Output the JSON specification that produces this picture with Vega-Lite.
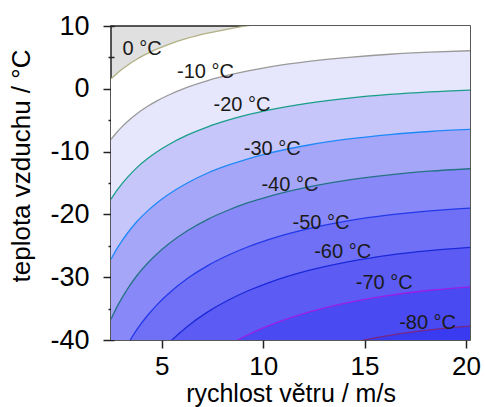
{
  "$schema": "https://vega.github.io/schema/vega-lite/v6.json",
  "width": 359,
  "height": 314,
  "autosize": {"type": "none"},
  "padding": {"left": 111, "top": 26, "right": 15, "bottom": 67},
  "background": "white",
  "config": {
    "font": "Liberation Sans",
    "view": {"fill": "#e0e0e0", "stroke": "#222222", "strokeWidth": 1.5}
  },
  "datasets": {
    "c": [
      {"v":2.5,"T":1.6,"c":0},{"v":2.8,"T":2.45,"c":0},{"v":3.0,"T":3.0,"c":0},{"v":3.3,"T":3.72,"c":0},{"v":3.79,"T":4.75,"c":0},{"v":4.29,"T":5.6,"c":0},{"v":4.79,"T":6.35,"c":0},{"v":5.29,"T":7.0,"c":0},{"v":6.28,"T":8.05,"c":0},{"v":7.27,"T":8.85,"c":0},{"v":8.27,"T":9.5,"c":0},{"v":9.26,"T":10.05,"c":0},{"v":10.26,"T":10.5,"c":0},{"v":12.25,"T":11.1,"c":0},{"v":14.24,"T":11.55,"c":0},{"v":16.23,"T":11.9,"c":0},{"v":18.21,"T":12.15,"c":0},{"v":20.2,"T":12.33,"c":0},
      {"v":2.5,"T":-8.05,"c":-10},{"v":2.8,"T":-6.87,"c":-10},{"v":3.0,"T":-6.18,"c":-10},{"v":3.3,"T":-5.25,"c":-10},{"v":3.79,"T":-3.93,"c":-10},{"v":4.29,"T":-2.82,"c":-10},{"v":4.79,"T":-1.88,"c":-10},{"v":5.29,"T":-1.07,"c":-10},{"v":6.28,"T":0.27,"c":-10},{"v":7.27,"T":1.32,"c":-10},{"v":8.27,"T":2.17,"c":-10},{"v":9.26,"T":2.87,"c":-10},{"v":10.26,"T":3.46,"c":-10},{"v":12.25,"T":4.37,"c":-10},{"v":14.24,"T":5.02,"c":-10},{"v":16.23,"T":5.5,"c":-10},{"v":18.21,"T":5.83,"c":-10},{"v":20.2,"T":6.06,"c":-10},
      {"v":2.5,"T":-17.59,"c":-20},{"v":2.8,"T":-16.15,"c":-20},{"v":3.0,"T":-15.29,"c":-20},{"v":3.3,"T":-14.14,"c":-20},{"v":3.79,"T":-12.51,"c":-20},{"v":4.29,"T":-11.15,"c":-20},{"v":4.79,"T":-9.99,"c":-20},{"v":5.29,"T":-8.99,"c":-20},{"v":6.28,"T":-7.35,"c":-20},{"v":7.27,"T":-6.05,"c":-20},{"v":8.27,"T":-5.0,"c":-20},{"v":9.26,"T":-4.13,"c":-20},{"v":10.26,"T":-3.41,"c":-20},{"v":12.25,"T":-2.29,"c":-20},{"v":14.24,"T":-1.48,"c":-20},{"v":16.23,"T":-0.9,"c":-20},{"v":18.21,"T":-0.49,"c":-20},{"v":20.2,"T":-0.2,"c":-20},
      {"v":2.5,"T":-27.14,"c":-30},{"v":2.8,"T":-25.42,"c":-30},{"v":3.0,"T":-24.4,"c":-30},{"v":3.3,"T":-23.04,"c":-30},{"v":3.79,"T":-21.1,"c":-30},{"v":4.29,"T":-19.48,"c":-30},{"v":4.79,"T":-18.1,"c":-30},{"v":5.29,"T":-16.91,"c":-30},{"v":6.28,"T":-14.96,"c":-30},{"v":7.27,"T":-13.41,"c":-30},{"v":8.27,"T":-12.17,"c":-30},{"v":9.26,"T":-11.14,"c":-30},{"v":10.26,"T":-10.28,"c":-30},{"v":12.25,"T":-8.95,"c":-30},{"v":14.24,"T":-7.99,"c":-30},{"v":16.23,"T":-7.29,"c":-30},{"v":18.21,"T":-6.8,"c":-30},{"v":20.2,"T":-6.47,"c":-30},
      {"v":2.5,"T":-36.69,"c":-40},{"v":2.8,"T":-34.69,"c":-40},{"v":3.0,"T":-33.52,"c":-40},{"v":3.3,"T":-31.93,"c":-40},{"v":3.79,"T":-29.69,"c":-40},{"v":4.29,"T":-27.81,"c":-40},{"v":4.79,"T":-26.22,"c":-40},{"v":5.29,"T":-24.84,"c":-40},{"v":6.28,"T":-22.57,"c":-40},{"v":7.27,"T":-20.78,"c":-40},{"v":8.27,"T":-19.34,"c":-40},{"v":9.26,"T":-18.14,"c":-40},{"v":10.26,"T":-17.15,"c":-40},{"v":12.25,"T":-15.61,"c":-40},{"v":14.24,"T":-14.49,"c":-40},{"v":16.23,"T":-13.69,"c":-40},{"v":18.21,"T":-13.12,"c":-40},{"v":20.2,"T":-12.73,"c":-40},
      {"v":2.5,"T":-46.23,"c":-50},{"v":2.8,"T":-43.97,"c":-50},{"v":3.0,"T":-42.63,"c":-50},{"v":3.3,"T":-40.83,"c":-50},{"v":3.79,"T":-38.28,"c":-50},{"v":4.29,"T":-36.14,"c":-50},{"v":4.79,"T":-34.33,"c":-50},{"v":5.29,"T":-32.76,"c":-50},{"v":6.28,"T":-30.18,"c":-50},{"v":7.27,"T":-28.15,"c":-50},{"v":8.27,"T":-26.51,"c":-50},{"v":9.26,"T":-25.15,"c":-50},{"v":10.26,"T":-24.02,"c":-50},{"v":12.25,"T":-22.27,"c":-50},{"v":14.24,"T":-21.0,"c":-50},{"v":16.23,"T":-20.09,"c":-50},{"v":18.21,"T":-19.44,"c":-50},{"v":20.2,"T":-19.0,"c":-50},
      {"v":3.79,"T":-46.86,"c":-60},{"v":4.29,"T":-44.47,"c":-60},{"v":4.79,"T":-42.44,"c":-60},{"v":5.29,"T":-40.68,"c":-60},{"v":6.28,"T":-37.8,"c":-60},{"v":7.27,"T":-35.52,"c":-60},{"v":8.27,"T":-33.67,"c":-60},{"v":9.26,"T":-32.16,"c":-60},{"v":10.26,"T":-30.89,"c":-60},{"v":12.25,"T":-28.92,"c":-60},{"v":14.24,"T":-27.51,"c":-60},{"v":16.23,"T":-26.48,"c":-60},{"v":18.21,"T":-25.76,"c":-60},{"v":20.2,"T":-25.26,"c":-60},
      {"v":7.27,"T":-42.88,"c":-70},{"v":8.27,"T":-40.84,"c":-70},{"v":9.26,"T":-39.16,"c":-70},{"v":10.26,"T":-37.76,"c":-70},{"v":12.25,"T":-35.58,"c":-70},{"v":14.24,"T":-34.01,"c":-70},{"v":16.23,"T":-32.88,"c":-70},{"v":18.21,"T":-32.08,"c":-70},{"v":20.2,"T":-31.53,"c":-70},
      {"v":12.25,"T":-42.24,"c":-80},{"v":14.24,"T":-40.52,"c":-80},{"v":16.23,"T":-39.27,"c":-80},{"v":18.21,"T":-38.39,"c":-80},{"v":20.2,"T":-37.79,"c":-80}
    ],
    "lab": [
      {"v":4.03,"T":6.34,"t":"0 °C"},
      {"v":7.16,"T":2.63,"t":"-10 °C"},
      {"v":8.96,"T":-2.58,"t":"-20 °C"},
      {"v":10.45,"T":-9.59,"t":"-30 °C"},
      {"v":11.32,"T":-15.32,"t":"-40 °C"},
      {"v":12.85,"T":-21.42,"t":"-50 °C"},
      {"v":13.92,"T":-25.94,"t":"-60 °C"},
      {"v":15.97,"T":-30.97,"t":"-70 °C"},
      {"v":18.11,"T":-37.34,"t":"-80 °C"}
    ]
  },
  "data": {"name": "c"},
  "encoding": {
    "x": {
      "field": "v", "type": "quantitative",
      "scale": {"domain": [2.5, 20.2], "nice": false, "zero": false},
      "axis": {
        "values": [5, 10, 15, 20], "domain": false, "grid": false,
        "tickSize": 8, "tickColor": "#222222", "tickWidth": 1.5,
        "labelFontSize": 26, "labelColor": "#000000", "labelPadding": 5,
        "labelFlush": false, "labelOverlap": false,
        "title": "rychlost větru / m/s", "titleFontSize": 25, "titleFontWeight": "normal",
        "titleColor": "#000000", "titleBaseline": "alphabetic", "titleY": 61
      }
    },
    "y": {
      "field": "T", "type": "quantitative",
      "scale": {"domain": [-40, 10], "nice": false, "zero": false},
      "axis": {
        "values": [-40, -35, -30, -25, -20, -15, -10, -5, 0, 5, 10],
        "domain": false, "grid": false, "offset": -3,
        "tickSize": {"condition": {"test": "datum.value % 10 === 0", "value": 11}, "value": 6},
        "tickColor": "#222222", "tickWidth": 1.5,
        "labelExpr": "datum.value % 10 === 0 ? toString(datum.value) : ''",
        "labelFontSize": 27, "labelColor": "#000000", "labelPadding": 14,
        "labelFlush": false, "labelOverlap": false,
        "title": "teplota vzduchu / °C", "titleFontSize": 26, "titleFontWeight": "normal",
        "titleColor": "#000000", "titleX": -80, "titleY": 139.5, "titleBaseline": "bottom"
      }
    }
  },
  "layer": [
    {"transform": [{"filter": "datum.c == 0"}], "mark": {"type": "area", "clip": true, "interpolate": "monotone", "color": "#ffffff"}, "encoding": {"y2": {"datum": -50}}},
    {"transform": [{"filter": "datum.c == -10"}], "mark": {"type": "area", "clip": true, "interpolate": "monotone", "color": "#e6e6fc"}, "encoding": {"y2": {"datum": -50}}},
    {"transform": [{"filter": "datum.c == -20"}], "mark": {"type": "area", "clip": true, "interpolate": "monotone", "color": "#c6c6fb"}, "encoding": {"y2": {"datum": -50}}},
    {"transform": [{"filter": "datum.c == -30"}], "mark": {"type": "area", "clip": true, "interpolate": "monotone", "color": "#a6a6f9"}, "encoding": {"y2": {"datum": -50}}},
    {"transform": [{"filter": "datum.c == -40"}], "mark": {"type": "area", "clip": true, "interpolate": "monotone", "color": "#8888f8"}, "encoding": {"y2": {"datum": -50}}},
    {"transform": [{"filter": "datum.c == -50"}], "mark": {"type": "area", "clip": true, "interpolate": "monotone", "color": "#7070f6"}, "encoding": {"y2": {"datum": -50}}},
    {"transform": [{"filter": "datum.c == -60"}], "mark": {"type": "area", "clip": true, "interpolate": "monotone", "color": "#5c5cf4"}, "encoding": {"y2": {"datum": -50}}},
    {"transform": [{"filter": "datum.c == -70"}], "mark": {"type": "area", "clip": true, "interpolate": "monotone", "color": "#4a4af2"}, "encoding": {"y2": {"datum": -50}}},
    {"transform": [{"filter": "datum.c == -80"}], "mark": {"type": "area", "clip": true, "interpolate": "monotone", "color": "#3a3af0"}, "encoding": {"y2": {"datum": -50}}},
    {
      "mark": {"type": "line", "clip": true, "interpolate": "monotone", "strokeWidth": 1.3},
      "encoding": {
        "color": {
          "field": "c", "type": "nominal", "legend": null,
          "scale": {
            "domain": [0, -10, -20, -30, -40, -50, -60, -70, -80],
            "range": ["#b0b084", "#9a9a9a", "#1a9e88", "#2088f8", "#257285", "#2238ea", "#1a28d8", "#9a1ee6", "#782684"]
          }
        }
      }
    },
    {
      "data": {"values": [{}]},
      "mark": {"type": "rule", "color": "#333333", "strokeWidth": 1.5},
      "encoding": {"x": {"datum": 2.5}, "x2": {"datum": 20.2}, "y": {"datum": 0}}
    },
    {
      "data": {"name": "lab"},
      "mark": {"type": "text", "fontSize": 20, "color": "#1a1a1a", "align": "center", "baseline": "middle"},
      "encoding": {"text": {"field": "t"}}
    }
  ]
}
